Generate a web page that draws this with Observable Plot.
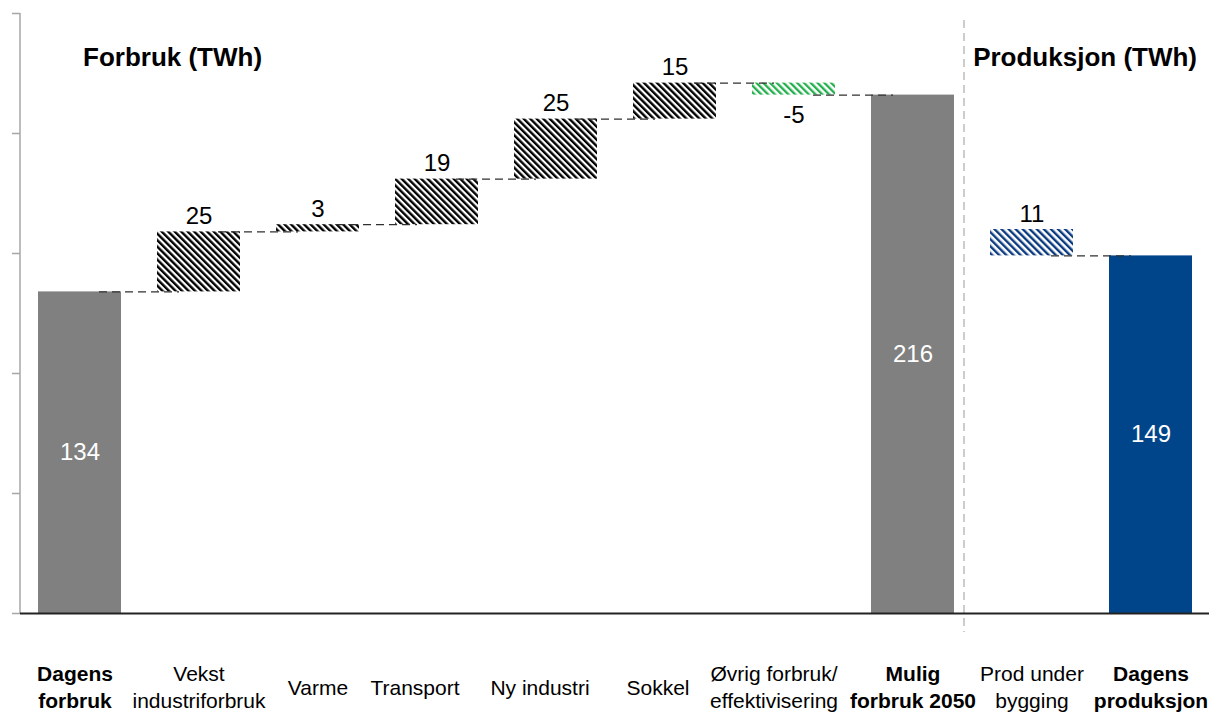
<!DOCTYPE html>
<html lang="no">
<head>
<meta charset="utf-8">
<title>Forbruk og produksjon (TWh)</title>
<script src="https://cdn.jsdelivr.net/npm/d3@7"></script>
<script src="https://cdn.jsdelivr.net/npm/@observablehq/plot@0.6"></script>
<style>
  html, body { margin: 0; padding: 0; background: #fff; }
  #chart { width: 1209px; height: 715px; }
</style>
</head>
<body>
<div id="chart"></div>
<script>
// Kategorier langs x-aksen (linjeskift gir to linjer i etiketten)
const categories = [
  "Dagens\nforbruk",
  "Vekst\nindustriforbruk",
  "Varme",
  "Transport",
  "Ny industri",
  "Sokkel",
  "Øvrig forbruk/\neffektivisering",
  "Mulig\nforbruk 2050",
  "Prod under\nbygging",
  "Dagens\nproduksjon"
];

// Forbruk (TWh): dagens nivå, endringer og mulig forbruk i 2050
const forbrukToday = 134;
const forbrukChanges = [25, 3, 19, 25, 15, -5];
const forbruk2050 = 216;

// Produksjon (TWh)
const prodUnderConstruction = 11;
const prodToday = 149;

// Y-aksens inndeling
const yTicks = [0, 50, 100, 150, 200, 250];

const colors = {
  total: "#808080",
  prod: "#00458a",
  black: "#000000",
  green: "#22b04c",
  blue: "#0a3a80",
  connector: "#303030",
  axis: "#a6a6a6"
};

// Små horisontale justeringer av kategorietikettene (piksler)
const labelNudge = new Map([
  [categories[0], -5],
  [categories[3], -22],
  [categories[4], -16],
  [categories[5], -17],
  [categories[6], -20]
]);

// Bygg fossefall-radene
const rows = [];
rows.push({category: categories[0], y1: 0, y2: forbrukToday, value: forbrukToday, kind: "total", fill: colors.total});
let level = forbrukToday;
forbrukChanges.forEach((v, i) => {
  const start = level;
  level += v;
  rows.push({
    category: categories[i + 1],
    y1: Math.min(start, level),
    y2: Math.max(start, level),
    value: v,
    kind: v >= 0 ? "up" : "down",
    fill: v >= 0 ? "url(#hatch-black)" : "url(#hatch-green)"
  });
});
rows.push({category: categories[7], y1: 0, y2: forbruk2050, value: forbruk2050, kind: "total", fill: colors.total});
rows.push({category: categories[8], y1: prodToday, y2: prodToday + prodUnderConstruction, value: prodUnderConstruction, kind: "up", fill: "url(#hatch-blue)"});
rows.push({category: categories[9], y1: 0, y2: prodToday, value: prodToday, kind: "total", fill: colors.prod});

// Stiplede forbindelseslinjer mellom nabosøyler
const connectors = [];
let run = forbrukToday;
for (let i = 0; i < forbrukChanges.length; i++) {
  connectors.push({from: categories[i], to: categories[i + 1], y: run});
  run += forbrukChanges[i];
}
connectors.push({from: categories[6], to: categories[7], y: run});
connectors.push({from: categories[8], to: categories[9], y: prodToday});

// Skraverte mønstre for endringssøylene
function hatchDefs() {
  const defs = d3.create("svg:defs");
  const patterns = [
    {id: "hatch-black", color: colors.black, size: 4.6, stripe: 2.4},
    {id: "hatch-green", color: colors.green, size: 4.8, stripe: 2.3},
    {id: "hatch-blue", color: colors.blue, size: 5.0, stripe: 2.4}
  ];
  for (const p of patterns) {
    const pat = defs.append("pattern")
      .attr("id", p.id)
      .attr("patternUnits", "userSpaceOnUse")
      .attr("width", p.size)
      .attr("height", p.size)
      .attr("patternTransform", "rotate(-45)");
    pat.append("rect").attr("width", p.size).attr("height", p.size).attr("fill", "#fff");
    pat.append("rect").attr("width", p.stripe).attr("height", p.size).attr("fill", p.color);
  }
  return defs.node();
}

// Vertikal aksellinje langs venstre kant av plottflaten
function yAxisLine(index, {y}, values, {marginLeft}) {
  const [d0, d1] = y.domain();
  return d3.create("svg:line")
    .attr("x1", marginLeft).attr("x2", marginLeft)
    .attr("y1", y(d0)).attr("y2", y(d1))
    .attr("stroke", colors.axis)
    .attr("stroke-width", 1.5)
    .node();
}

const font = "'Liberation Sans', Arial, Helvetica, sans-serif";
const totals = rows.filter(d => d.kind === "total");
const nonTotals = rows.filter(d => d.kind !== "total");
const nudge = d => labelNudge.get(d.category) || 0;

const labelOptions = {
  x: "category",
  text: "category",
  frameAnchor: "bottom",
  dy: 72.6,
  lineAnchor: "middle",
  lineHeight: 1.25,
  fontSize: 21,
  fill: "#000"
};

const chart = Plot.plot({
  width: 1209,
  height: 715,
  marginLeft: 20,
  marginRight: 0,
  marginTop: 13,
  marginBottom: 102,
  style: {fontFamily: font, background: "#fff", overflow: "visible"},
  x: {domain: categories, paddingInner: 0.303, paddingOuter: 0.143, align: 0.5, axis: null},
  y: {domain: [0, 250], axis: null},
  marks: [
    hatchDefs,
    Plot.axisY(yTicks, {tickSize: 8, tickFormat: () => "", stroke: colors.axis, strokeWidth: 1.5}),
    yAxisLine,
    // Skillelinje mellom forbruk og produksjon
    Plot.ruleX([categories[8]], {dx: -68, insetTop: 7, insetBottom: -19, stroke: "#9a9a9a", strokeDasharray: "8,5", strokeWidth: 1}),
    Plot.barY(rows, {x: "category", y1: "y1", y2: "y2", fill: "fill"}),
    Plot.ruleY(connectors, {x1: "from", x2: "to", y: "y", insetLeft: 61, insetRight: 61, stroke: colors.connector, strokeDasharray: "8,5", strokeWidth: 1.2}),
    Plot.ruleY([0], {stroke: "#222", strokeWidth: 2}),
    // Verdietiketter
    Plot.text(nonTotals.filter(d => d.kind === "up"), {x: "category", y: "y2", text: d => String(d.value), lineAnchor: "bottom", dy: -8, fontSize: 24, fill: "#000"}),
    Plot.text(nonTotals.filter(d => d.kind === "down"), {x: "category", y: "y1", text: d => String(d.value), lineAnchor: "top", dy: 11, fontSize: 24, fill: "#000"}),
    Plot.text(totals, {x: "category", y: d => d.y2 / 2, text: d => String(d.value), lineAnchor: "middle", fontSize: 24, fill: "#fff"}),
    // Kategorietiketter under aksen (én mark per forskyvning)
    ...[...new Set(rows.map(nudge))].flatMap(dx => [
      Plot.text(nonTotals.filter(d => nudge(d) === dx), {...labelOptions, dx}),
      Plot.text(totals.filter(d => nudge(d) === dx), {...labelOptions, dx, fontWeight: "bold"})
    ]),
    // Seksjonstitler
    Plot.text(["Forbruk (TWh)"], {x: () => categories[0], text: d => d, frameAnchor: "top", textAnchor: "start", lineAnchor: "bottom", dx: 3, dy: 52, fontSize: 26, fontWeight: "bold", fill: "#000"}),
    Plot.text(["Produksjon (TWh)"], {x: () => categories[9], text: d => d, frameAnchor: "top", textAnchor: "end", lineAnchor: "bottom", dx: 46, dy: 52, fontSize: 26, fontWeight: "bold", fill: "#000"})
  ]
});

document.getElementById("chart").appendChild(chart);
</script>
</body>
</html>
